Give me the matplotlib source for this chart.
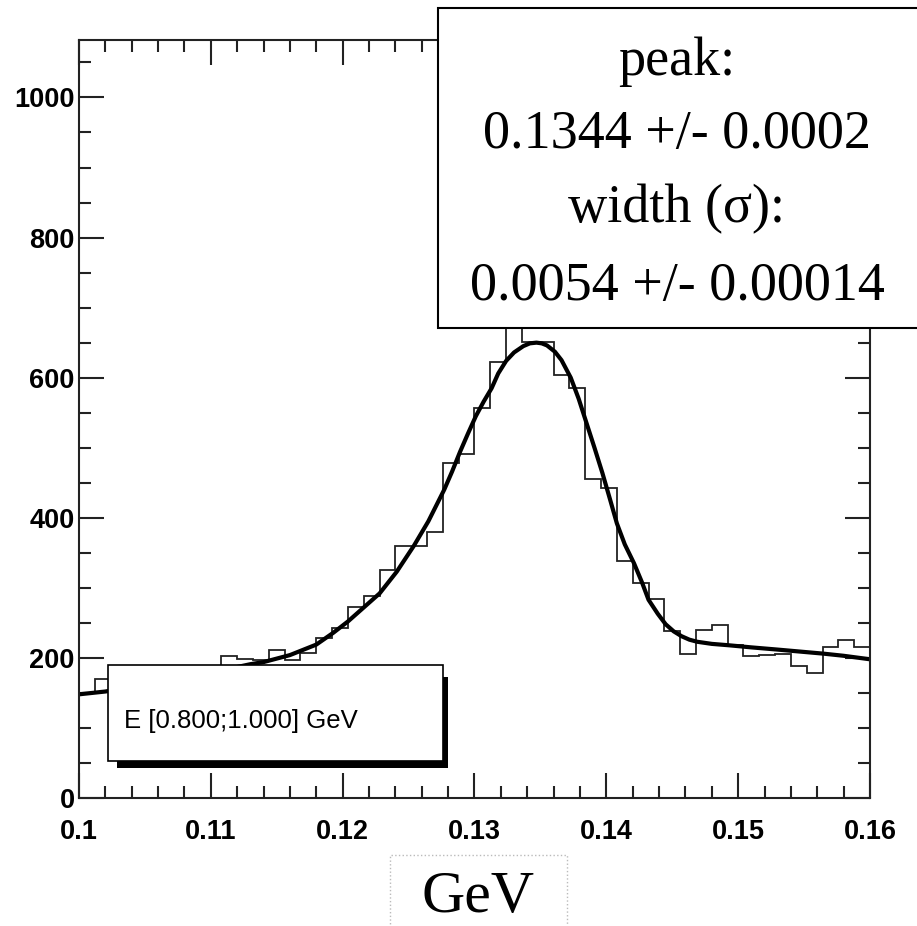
# -*- coding: utf-8 -*-

import matplotlib
matplotlib.use('Agg')
import matplotlib.pyplot as plt
import numpy as np
from matplotlib.patches import Rectangle


# histogram: 50 bins between 0.1 and 0.16 GeV
x_min, x_max, n_bins = 0.1, 0.16, 50
counts = [150, 170, 165, 172, 168, 178, 176, 183, 186, 203,
          198, 197, 211, 197, 207, 228, 243, 272, 288, 326,
          360, 360, 380, 478, 491, 557, 623, 690, 651, 651,
          604, 585, 455, 442, 338, 307, 284, 238, 205, 240,
          247, 219, 202, 204, 205, 189, 179, 215, 226, 215]

# fit curve
fit_x = [0.1000, 0.1010, 0.1020, 0.1050, 0.1080, 0.1110, 0.1130, 0.1140,
         0.1160, 0.1180, 0.1193, 0.1204, 0.1216, 0.1228, 0.1241, 0.1254,
         0.1265, 0.1277, 0.1283, 0.1289, 0.1295, 0.1301, 0.1307, 0.1313,
         0.1318, 0.1324, 0.1330, 0.1337, 0.1342, 0.1347, 0.1351, 0.1355,
         0.1361, 0.1366, 0.1373, 0.1379, 0.1385, 0.1391, 0.1397, 0.1403,
         0.1408, 0.1414, 0.1421, 0.1427, 0.1432, 0.1439, 0.1445, 0.1451,
         0.1457, 0.1463, 0.1469, 0.1480, 0.1493, 0.1510, 0.1529, 0.1547,
         0.1565, 0.1580, 0.1592, 0.1600]
fit_y = [148, 150, 152, 162, 172, 183, 191, 194,
         204, 219, 236, 252, 272, 292, 323, 360,
         395, 440, 466, 494, 520, 545, 566, 585,
         606, 624, 636, 645, 649, 650, 649, 646,
         637, 625, 600, 570, 535, 500, 464, 425,
         392, 362, 335, 308, 283, 263, 248, 238,
         231, 226, 223, 220, 218, 215, 212, 209,
         206, 203, 200, 198]

stats_lines = ['peak:', '0.1344 +/- 0.0002', 'width (σ):', '0.0054 +/- 0.00014']
legend_text = 'E [0.800;1.000] GeV'
x_label = 'GeV'

W, H = 917, 926
sans = ['Liberation Sans', 'DejaVu Sans']
serif = ['Liberation Serif', 'DejaVu Serif']


def fx(px):
    return px / W


def fy(py):
    return 1 - py / H


fig = plt.figure(figsize=(W / 100, H / 100), dpi=100, facecolor='w')
ax = fig.add_axes([fx(79), fy(798), (870 - 79) / W, (798 - 40) / H])

edges = np.linspace(x_min, x_max, n_bins + 1)
ax.stairs(counts, edges, baseline=None, color='#222222', lw=1.3)
ax.plot(fit_x, fit_y, color='k', lw=3.0, solid_capstyle='round',
        solid_joinstyle='round')

ax.set_xlim(x_min, x_max)
ax.set_ylim(0, 1082)
ax.set_xticks([0.1, 0.11, 0.12, 0.13, 0.14, 0.15, 0.16])
ax.set_xticklabels(['0.1', '0.11', '0.12', '0.13', '0.14', '0.15', '0.16'])
ax.set_xticks(np.arange(0.1, 0.1601, 0.002), minor=True)
ax.set_yticks([0, 200, 400, 600, 800, 1000])
ax.set_yticks(np.arange(0, 1081, 50), minor=True)

for s in ax.spines.values():
    s.set_linewidth(1.5)
    s.set_color('#222222')

ax.tick_params(which='both', direction='in', top=True, right=True,
               color='#222222', width=1.5)
ax.tick_params(which='major', length=18)
ax.tick_params(which='minor', length=8.5)
ax.tick_params(axis='x', which='major', pad=15)
ax.tick_params(axis='y', which='major', pad=3)
for lab in ax.get_xticklabels() + ax.get_yticklabels():
    lab.set_family(sans)
    lab.set_fontweight('bold')
    lab.set_fontsize(19.5)

# stats box at top right
fig.add_artist(Rectangle((fx(438), fy(328)), fx(930) - fx(438), (328 - 8) / H,
                         transform=fig.transFigure, fc='w', ec='k', lw=1.5,
                         zorder=5, clip_on=False))
for line, base in zip(stats_lines, [75, 148, 222, 300]):
    fig.text(fx(677), fy(base), line, ha='center', va='baseline',
             fontsize=39, family=serif, zorder=6)

# legend box with shadow
fig.add_artist(Rectangle((fx(117), fy(768)), (448 - 117) / W, (768 - 677) / H,
                         transform=fig.transFigure, fc='k', ec='k', lw=0,
                         zorder=5))
fig.add_artist(Rectangle((fx(108), fy(761)), (443 - 108) / W, (761 - 665) / H,
                         transform=fig.transFigure, fc='w', ec='k', lw=1.2,
                         zorder=5))
fig.text(fx(124), fy(728), legend_text, ha='left', va='baseline',
         fontsize=18.5, family=sans, zorder=6)

# x title with dotted frame
fig.add_artist(Rectangle((fx(390), fy(935)), (567 - 390) / W, (935 - 855) / H,
                         transform=fig.transFigure, fill=False, ec='#bbbbbb',
                         lw=1, ls=':', zorder=5))
fig.text(fx(478), fy(912), x_label, ha='center', va='baseline',
         fontsize=43, family=serif, zorder=6)

fig.savefig('out.png', dpi=100, facecolor='w')
